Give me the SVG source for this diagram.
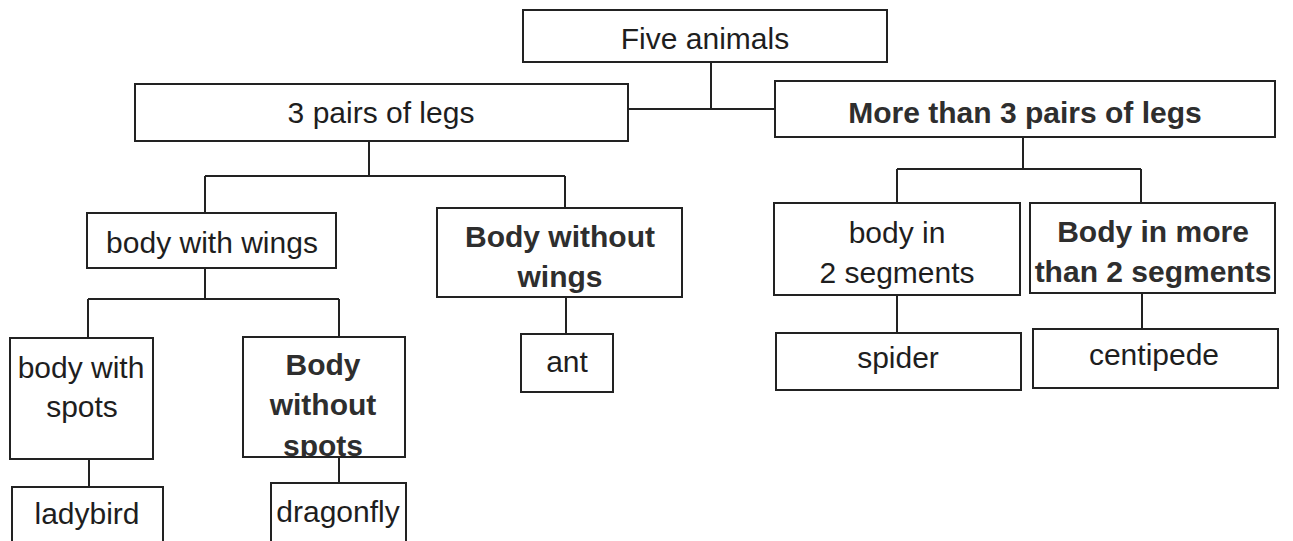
<svg xmlns="http://www.w3.org/2000/svg" width="1293" height="541" viewBox="0 0 1293 541">
<style>
.box{fill:#fff;stroke:#222;stroke-width:2}
.t{font-family:"Liberation Sans",Arial,sans-serif;font-size:30px;fill:#1e1e1e;text-anchor:middle}
.b{font-weight:bold;fill:#2e2e2e}
.c{fill:none;stroke:#222;stroke-width:2}
</style>
<defs>
<clipPath id="clipNoSpots"><rect x="243" y="337" width="162" height="120"/></clipPath>
</defs>
<rect width="1293" height="541" fill="#fff"/>
<g id="connectors" class="c">
<path d="M711,62 V109 M628,109 H775"/>
<path d="M369,141 V176 M205,176 H565 M205,176 V213 M565,176 V208"/>
<path d="M1023,137 V169 M897,169 H1141 M897,169 V203 M1141,169 V203"/>
<path d="M205,268 V299 M88,299 H339 M88,299 V338 M339,299 V337"/>
<path d="M89,459 V487 M339,457 V483"/>
<path d="M566,297 V334"/>
<path d="M897,295 V333 M1142,293 V329"/>
</g>
<g id="five-animals"><rect class="box" x="523" y="10" width="364" height="52"/><text class="t" x="705" y="49">Five animals</text></g>
<g id="three-pairs"><rect class="box" x="135" y="84" width="493" height="57"/><text class="t" x="381" y="123">3 pairs of legs</text></g>
<g id="more-than-three"><rect class="box" x="775" y="81" width="500" height="56"/><text class="t b" x="1025" y="123">More than 3 pairs of legs</text></g>
<g id="body-with-wings"><rect class="box" x="87" y="213" width="249" height="55"/><text class="t" x="212" y="253">body with wings</text></g>
<g id="body-without-wings"><rect class="box" x="437" y="208" width="245" height="89"/><text class="t b" x="560" y="247">Body without</text><text class="t b" x="560" y="287">wings</text></g>
<g id="ant"><rect class="box" x="521" y="334" width="92" height="58"/><text class="t" x="567" y="372">ant</text></g>
<g id="body-in-two"><rect class="box" x="774" y="203" width="246" height="92"/><text class="t" x="897" y="243">body in</text><text class="t" x="897" y="283">2 segments</text></g>
<g id="body-in-more"><rect class="box" x="1030" y="203" width="245" height="90"/><text class="t b" x="1153" y="242">Body in more</text><text class="t b" x="1153" y="282">than 2 segments</text></g>
<g id="spider"><rect class="box" x="776" y="333" width="245" height="57"/><text class="t" x="898" y="368">spider</text></g>
<g id="centipede"><rect class="box" x="1033" y="329" width="245" height="59"/><text class="t" x="1154" y="365">centipede</text></g>
<g id="body-with-spots"><rect class="box" x="10" y="338" width="143" height="121"/><text class="t" x="81" y="378">body with</text><text class="t" x="82" y="417">spots</text></g>
<g id="body-without-spots"><rect class="box" x="243" y="337" width="162" height="120"/><g clip-path="url(#clipNoSpots)"><text class="t b" x="323" y="375">Body</text><text class="t b" x="323" y="415">without</text><text class="t b" x="323" y="456">spots</text></g><rect x="243" y="337" width="162" height="120" fill="none" stroke="#222" stroke-width="2"/></g>
<g id="ladybird"><rect class="box" x="12" y="487" width="151" height="70"/><text class="t" x="87" y="524">ladybird</text></g>
<g id="dragonfly"><rect class="box" x="271" y="483" width="135" height="70"/><text class="t" x="338" y="522">dragonfly</text></g>
</svg>
